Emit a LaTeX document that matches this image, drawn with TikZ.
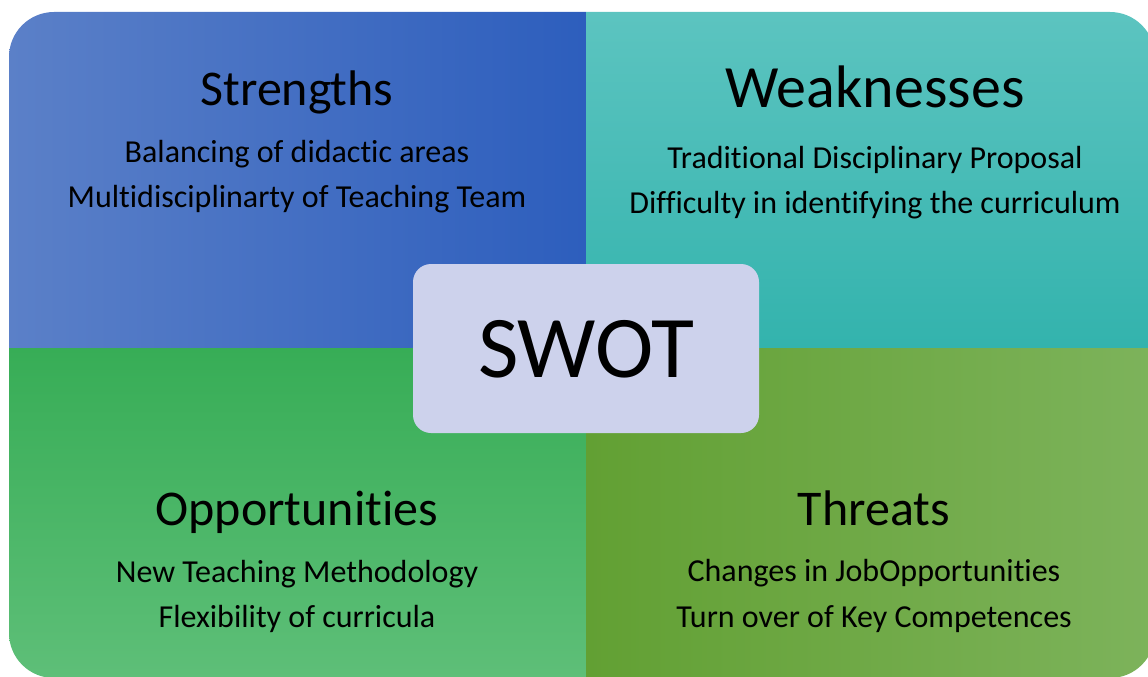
\documentclass[tikz,border=0pt]{standalone}
\usepackage{fontspec}
\setmainfont[Ligatures=NoCommon]{Carlito}
\definecolor{sLeft}{HTML}{5B80C8}
\definecolor{sRight}{HTML}{2D5EBD}
\definecolor{wTop}{HTML}{5CC4C0}
\definecolor{wBottom}{HTML}{33B3AD}
\definecolor{oTop}{HTML}{37AD56}
\definecolor{oBottom}{HTML}{5EBF78}
\definecolor{tLeft}{HTML}{62A033}
\definecolor{tRight}{HTML}{7DB35B}
\definecolor{centerFill}{HTML}{CDD2EC}
\tikzset{
  title/.style={anchor=base, text=black, inner sep=0pt, font=\fontsize{50}{60}\selectfont},
  bigtitle/.style={anchor=base, text=black, inner sep=0pt, font=\fontsize{60}{72}\selectfont},
  item/.style={anchor=base, text=black, inner sep=0pt, font=\fontsize{32}{38}\selectfont},
  centerbox/.style={fill=centerFill, rounded corners=18pt, draw=none}
}
\begin{document}
\begin{tikzpicture}[x=1pt, y=-1pt]
  \useasboundingbox (0,0) rectangle (1148,677);
  % four coloured quadrants inside one rounded frame
  \begin{scope}
    \clip[rounded corners=45pt] (9,12) rectangle (1155,678);
    \shade[left color=sLeft, right color=sRight] (9,12) rectangle (586,348);
    \shade[top color=wTop, bottom color=wBottom] (586,12) rectangle (1155,348);
    \shade[top color=oTop, bottom color=oBottom] (9,348) rectangle (586,678);
    \shade[left color=tLeft, right color=tRight] (586,348) rectangle (1155,678);
  \end{scope}
  % centre label
  \fill[centerbox] (413,264) rectangle (759,433);
  \node[anchor=base, inner sep=0pt, font=\fontsize{88}{100}\selectfont] (swot) at (586,377) {SWOT};
  % Strengths
  \node[title] (s-title) at (297,105) {Strengths};
  \node[item] (s-1) at (297,162) {Balancing of didactic areas};
  \node[item] (s-2) at (297,207) {Multidisciplinarty of Teaching Team};
  % Weaknesses
  \node[bigtitle] (w-title) at (875,107) {Weaknesses};
  \node[item] (w-1) at (875,168) {Traditional Disciplinary Proposal};
  \node[item] (w-2) at (875,213) {Difficulty in identifying the curriculum};
  % Opportunities
  \node[title] (o-title) at (297,525) {Opportunities};
  \node[item] (o-1) at (297,582) {New Teaching Methodology};
  \node[item] (o-2) at (297,627) {Flexibility of curricula};
  % Threats
  \node[title] (t-title) at (874,525) {Threats};
  \node[item] (t-1) at (874,581) {Changes in JobOpportunities};
  \node[item] (t-2) at (874,627) {Turn over of Key Competences};
\end{tikzpicture}
\end{document}
